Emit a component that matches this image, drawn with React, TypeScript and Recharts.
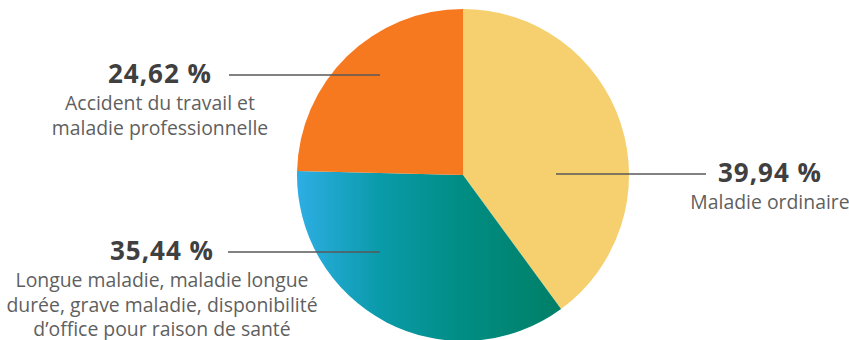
import { Cell, Pie, PieChart } from "recharts";

const categories = [
  "Maladie ordinaire",
  "Longue maladie, maladie longue durée, grave maladie, disponibilité d'office pour raison de santé",
  "Accident du travail et maladie professionnelle",
];
const values = [39.94, 35.44, 24.62];
const percentLabels = ["39,94 %", "35,44 %", "24,62 %"];
const descLines = [
  ["Maladie ordinaire"],
  ["Longue maladie, maladie longue", "durée, grave maladie, disponibilité", "d\u2019office pour raison de santé"],
  ["Accident du travail et", "maladie professionnelle"],
];
const fills = ["#F6D06E", "url(#sickGrad)", "#F7791F"];

const data = categories.map((name, i) => ({ name, value: values[i] }));

// label placement, relative to the pie centre (px)
const labelPos = [
  { lineFrom: 93, lineTo: 243, y: -1, textX: 307 },
  { lineFrom: -83, lineTo: -235, y: 77, textX: -301 },
  { lineFrom: -83, lineTo: -234, y: -100, textX: -303 },
];

const font = "'Open Sans', 'Noto Sans', sans-serif";

function renderLabel(props: any) {
  const { cx, cy, index } = props;
  const p = labelPos[index];
  const y = cy + p.y;
  const tx = cx + p.textX;
  return (
    <g key={`lbl-${index}`}>
      <line x1={cx + p.lineFrom} y1={y} x2={cx + p.lineTo} y2={y} stroke="#595959" strokeWidth={1.3} />
      <text
        x={tx}
        y={y + 8}
        textAnchor="middle"
        fontFamily={font}
        fontWeight={700}
        fontSize={26}
        letterSpacing={1}
        fill="#404040"
      >
        {percentLabels[index]}
      </text>
      {descLines[index].map((l, j) => (
        <text key={j} x={tx} y={y + 35 + j * 24.5} textAnchor="middle" fontFamily={font} fontSize={19.4} fill="#5f5f5f">
          {l}
        </text>
      ))}
    </g>
  );
}

export default function App() {
  return (
    <div style={{ position: "absolute", left: 0, top: 0, background: "#fff" }}>
      <PieChart width={849} height={340} margin={{ top: 0, right: 0, bottom: 0, left: 0 }}>
        <defs>
          <linearGradient id="sickGrad" x1="0" y1="0" x2="1" y2="0">
            <stop offset="0%" stopColor="#2DAEE4" />
            <stop offset="31%" stopColor="#0A9BAA" />
            <stop offset="62%" stopColor="#018D84" />
            <stop offset="100%" stopColor="#007F67" />
          </linearGradient>
        </defs>
        <Pie
          data={data}
          dataKey="value"
          nameKey="name"
          cx={463}
          cy={175}
          innerRadius={0}
          outerRadius={166}
          startAngle={90}
          endAngle={-270}
          stroke="none"
          label={renderLabel}
          labelLine={false}
          isAnimationActive={false}
        >
          {data.map((d, i) => (
            <Cell key={d.name} fill={fills[i]} stroke="none" />
          ))}
        </Pie>
      </PieChart>
    </div>
  );
}
